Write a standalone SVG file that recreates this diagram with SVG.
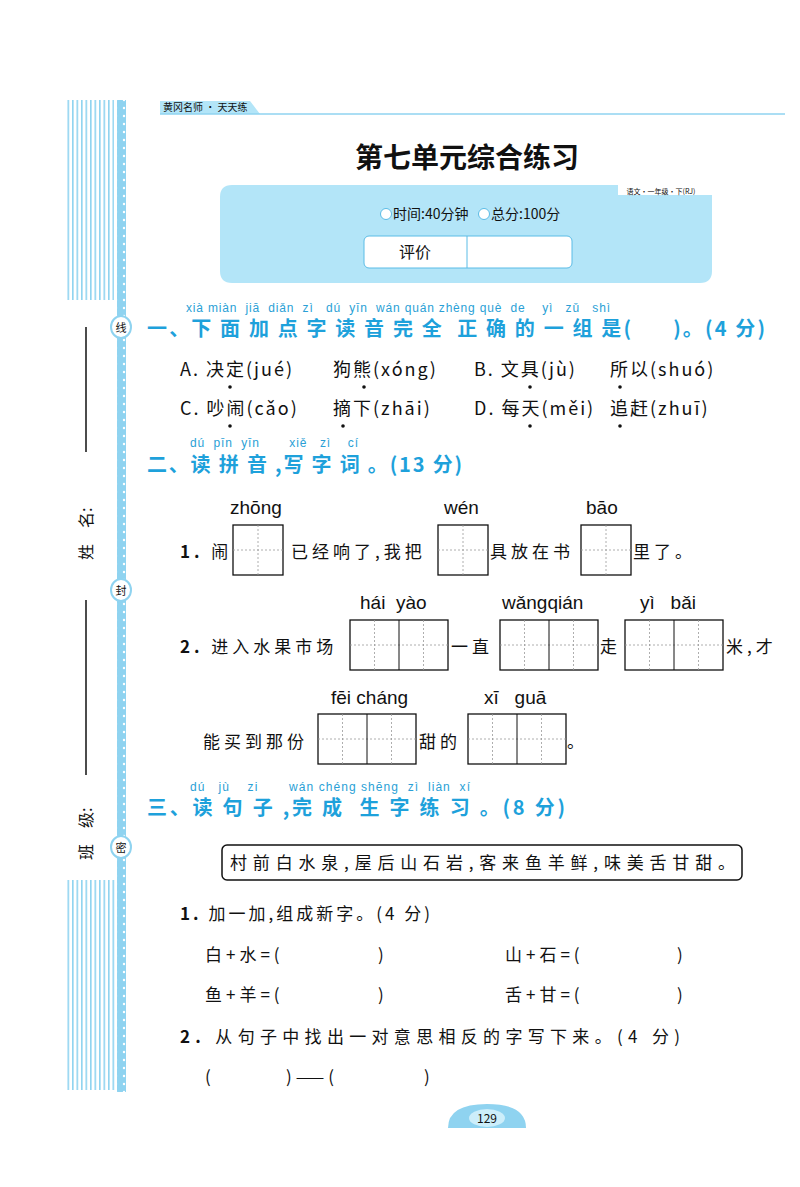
<svg xmlns="http://www.w3.org/2000/svg" width="800" height="1187" viewBox="0 0 800 1187">
<defs>
<pattern id="stripes" width="4.5" height="10" patternUnits="userSpaceOnUse"><rect x="0" y="0" width="1.6" height="10" fill="#8fd3f0"/></pattern>
<pattern id="dots" width="8" height="8" patternUnits="userSpaceOnUse"><circle cx="4" cy="4" r="1.2" fill="#ffffff"/></pattern>
</defs>
<style>
text{font-family:"Noto Sans CJK SC","Liberation Sans",sans-serif;fill:#111}
.py{font-family:"Liberation Sans","Noto Sans",sans-serif;font-size:12px;fill:#2a9fd6}
.pyb{font-family:"Liberation Sans","Noto Sans",sans-serif;font-size:19px;fill:#111}
.h{font-size:20px;font-weight:bold;fill:#1ea1db}
.t{font-size:17px;letter-spacing:4px}
.o{font-size:18px;letter-spacing:2px}
.box{fill:#fff;stroke:#111;stroke-width:1.3}
.g{stroke:#999;stroke-width:0.8;stroke-dasharray:2 2;fill:none}
.c{fill:#fff;stroke:#8fd3f0;stroke-width:2}
.dot{fill:#111}
</style>
<rect width="800" height="1187" fill="#fff"/>
<!-- left margin -->
<rect x="66" y="100" width="48" height="200" fill="url(#stripes)"/>
<rect x="66" y="880" width="50" height="210" fill="url(#stripes)"/>
<rect x="117" y="100" width="9" height="992" fill="#8fd3f0"/>
<rect x="117" y="100" width="9" height="992" fill="url(#dots)"/>
<ellipse class="c" cx="121" cy="327" rx="10" ry="11"/><text x="121" y="332" font-size="11" text-anchor="middle" fill="#555">线</text>
<ellipse class="c" cx="121" cy="590" rx="10" ry="11"/><text x="121" y="595" font-size="11" text-anchor="middle" fill="#555">封</text>
<ellipse class="c" cx="121" cy="847" rx="10" ry="11"/><text x="121" y="852" font-size="11" text-anchor="middle" fill="#555">密</text>
<line x1="86" y1="327" x2="86" y2="452" stroke="#111" stroke-width="1.5"/>
<text transform="translate(92,560) rotate(-90)" font-size="16">姓　名:</text>
<line x1="86" y1="600" x2="86" y2="775" stroke="#111" stroke-width="1.5"/>
<text transform="translate(92,860) rotate(-90)" font-size="16">班　级:</text>
<!-- header -->
<path d="M160,101 H250 L260,114 H160 Z" fill="#b3e5f8"/>
<line x1="160" y1="114" x2="785" y2="114" stroke="#8fd3f0" stroke-width="1.5"/>
<text x="163" y="111" font-size="10">黄冈名师 · 天天练</text>
<text x="467" y="168" font-size="28" font-weight="bold" text-anchor="middle" font-family="Noto Sans CJK SC,serif">第七单元综合练习</text>
<g id="infobox">
<path d="M232,185 H618 V195 H712 V271 Q712,283 700,283 H232 Q220,283 220,271 V197 Q220,185 232,185 Z" fill="#b3e5f8"/>
<text x="661" y="194" font-size="7" text-anchor="middle">语文·一年级·下(RJ)</text>
<circle cx="386" cy="214" r="5.5" fill="#fff" stroke="#5bbce6"/>
<circle cx="484" cy="214" r="5.5" fill="#fff" stroke="#5bbce6"/>
<text x="393" y="219" font-size="14">时间:40分钟</text>
<text x="491" y="219" font-size="14">总分:100分</text>
<rect x="364" y="236" width="208" height="32" rx="5" fill="#fff" stroke="#5bbce6"/>
<line x1="467" y1="236" x2="467" y2="268" stroke="#5bbce6"/>
<text x="415" y="258" font-size="16" text-anchor="middle">评价</text>
</g>
<!-- section 1 -->
<text class="py" x="186" y="312" textLength="424" lengthAdjust="spacing" xml:space="preserve">xià miàn  jiā  diǎn  zì   dú  yīn  wán quán zhèng què  de    yì   zǔ   shì</text>
<text class="h" x="147" y="336" textLength="618" lengthAdjust="spacing" xml:space="preserve">一、下 面 加 点 字 读 音 完 全  正 确 的 一 组 是(      )。(4 分)</text>
<text class="o" x="180" y="376">A. 决定(jué)</text><text class="o" x="333" y="376">狗熊(xóng)</text><text class="o" x="474" y="376">B. 文具(jù)</text><text class="o" x="610" y="376">所以(shuó)</text>
<text class="o" x="180" y="415">C. 吵闹(cǎo)</text><text class="o" x="333" y="415">摘下(zhāi)</text><text class="o" x="474" y="415">D. 每天(měi)</text><text class="o" x="610" y="415">追赶(zhuī)</text>
<circle class="dot" cx="230" cy="387" r="1.8"/><circle class="dot" cx="364" cy="387" r="1.8"/><circle class="dot" cx="530" cy="387" r="1.8"/><circle class="dot" cx="620" cy="387" r="1.8"/>
<circle class="dot" cx="230" cy="426" r="1.8"/><circle class="dot" cx="343" cy="426" r="1.8"/><circle class="dot" cx="530" cy="426" r="1.8"/><circle class="dot" cx="620" cy="426" r="1.8"/>
<!-- section 2 -->
<text class="py" x="190" y="447" textLength="168" lengthAdjust="spacing" xml:space="preserve">dú  pīn  yīn       xiě   zì    cí</text>
<text class="h" x="147" y="472" textLength="315" lengthAdjust="spacing" xml:space="preserve">二、读 拼 音 ,写 字 词 。(13 分)</text>
<text class="pyb" x="230" y="514">zhōng</text><text class="pyb" x="444" y="514">wén</text><text class="pyb" x="586" y="514">bāo</text>
<g id="row1">
<rect class="box" x="233" y="525" width="50" height="50"/><path class="g" d="M258,525V575M233,550H283"/>
<rect class="box" x="438" y="525" width="50" height="50"/><path class="g" d="M463,525V575M438,550H488"/>
<rect class="box" x="581" y="525" width="50" height="50"/><path class="g" d="M606,525V575M581,550H631"/>
</g>
<text class="t" x="180" y="558"><tspan font-weight="bold">1.</tspan> 闹</text>
<text class="t" x="291" y="558">已经响了,我把</text>
<text class="t" x="490" y="558">具放在书</text>
<text class="t" x="633" y="558">里了。</text>
<text class="pyb" x="360" y="609" xml:space="preserve">hái  yào</text>
<text class="pyb" x="502" y="609">wǎngqián</text>
<text class="pyb" x="640" y="609" xml:space="preserve">yì   bǎi</text>
<g id="row2">
<rect class="box" x="350" y="620" width="98" height="50"/><path class="g" d="M374.5,620V670M423.5,620V670M350,645H448"/><line x1="399" y1="620" x2="399" y2="670" stroke="#111"/>
<rect class="box" x="500" y="620" width="98" height="50"/><path class="g" d="M524.5,620V670M573.5,620V670M500,645H598"/><line x1="549" y1="620" x2="549" y2="670" stroke="#111"/>
<rect class="box" x="625" y="620" width="98" height="50"/><path class="g" d="M649.5,620V670M698.5,620V670M625,645H723"/><line x1="674" y1="620" x2="674" y2="670" stroke="#111"/>
</g>
<text class="t" x="180" y="653"><tspan font-weight="bold">2.</tspan> 进入水果市场</text>
<text class="t" x="451" y="653">一直</text>
<text class="t" x="600" y="653">走</text>
<text class="t" x="726" y="653">米,才</text>
<text class="pyb" x="331" y="704">fēi cháng</text>
<text class="pyb" x="484" y="704" xml:space="preserve">xī   guā</text>
<g id="row3">
<rect class="box" x="318" y="714" width="98" height="50"/><path class="g" d="M342.5,714V764M391.5,714V764M318,739H416"/><line x1="367" y1="714" x2="367" y2="764" stroke="#111"/>
<rect class="box" x="468" y="714" width="98" height="50"/><path class="g" d="M492.5,714V764M541.5,714V764M468,739H566"/><line x1="517" y1="714" x2="517" y2="764" stroke="#111"/>
</g>
<text class="t" x="203" y="748">能买到那份</text>
<text class="t" x="419" y="748">甜的</text>
<text class="t" x="567" y="748">。</text>
<!-- section 3 -->
<text class="py" x="190" y="791" textLength="280" lengthAdjust="spacing" xml:space="preserve">dú   jù    zi       wán chéng shēng  zì  liàn  xí</text>
<text class="h" x="147" y="815" textLength="418" lengthAdjust="spacing" xml:space="preserve">三、读 句 子 ,完 成  生 字 练 习 。(8 分)</text>
<rect x="222" y="845" width="520" height="35" rx="5" fill="#fff" stroke="#111" stroke-width="1.5"/>
<text x="230" y="869" font-size="17" textLength="505" lengthAdjust="spacing">村前白水泉,屋后山石岩,客来鱼羊鲜,味美舌甘甜。</text>
<text x="180" y="920" font-size="17" textLength="250" lengthAdjust="spacing"><tspan font-weight="bold">1.</tspan> 加一加,组成新字。(4 分)</text>
<text class="t" x="205" y="961">白+水=(</text><text class="t" x="378" y="961">)</text>
<text class="t" x="505" y="961">山+石=(</text><text class="t" x="677" y="961">)</text>
<text class="t" x="205" y="1001">鱼+羊=(</text><text class="t" x="378" y="1001">)</text>
<text class="t" x="505" y="1001">舌+甘=(</text><text class="t" x="677" y="1001">)</text>
<text x="180" y="1043" font-size="17" textLength="500" lengthAdjust="spacing"><tspan font-weight="bold">2.</tspan> 从句子中找出一对意思相反的字写下来。(4 分)</text>
<text class="t" x="205" y="1083">(</text><text class="t" x="286" y="1083">)——(</text><text class="t" x="424" y="1083">)</text>
<!-- page number -->
<path d="M448,1128 Q448,1104 487,1104 Q526,1104 526,1128 Z" fill="#8fd3f0"/>
<ellipse cx="487" cy="1118" rx="18" ry="9" fill="#cdeefa"/>
<text x="487" y="1123" font-size="12" text-anchor="middle">129</text>
</svg>
